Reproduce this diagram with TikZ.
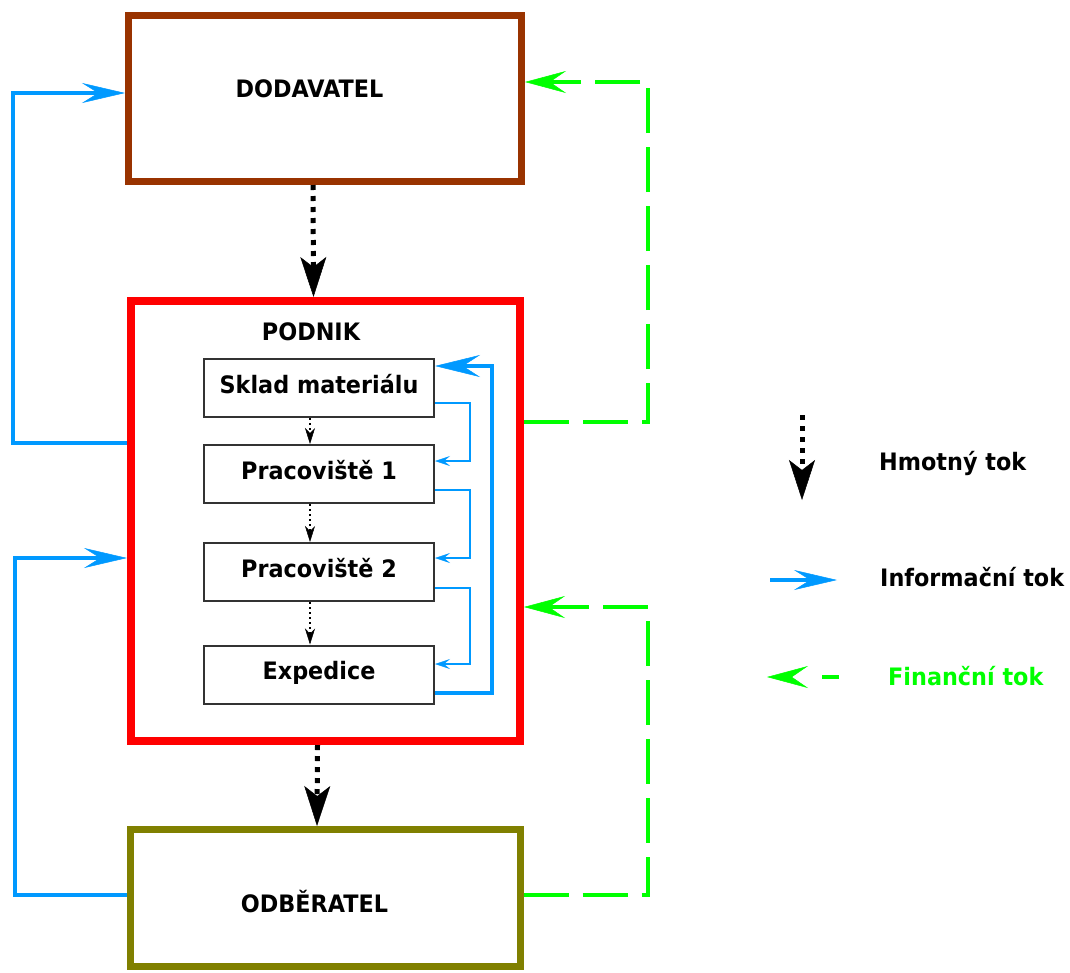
\documentclass[tikz,border=0pt]{standalone}
\usepackage{fontspec}
\setmainfont{DejaVu Sans}[FakeStretch=0.93]
\usetikzlibrary{arrows.meta,calc}
\definecolor{dodbrown}{HTML}{993300}
\definecolor{podred}{HTML}{FF0000}
\definecolor{odbolive}{HTML}{808000}
\definecolor{infoblue}{HTML}{0099FF}
\definecolor{fingreen}{HTML}{00FF00}
\definecolor{boxgray}{HTML}{333333}

\begin{document}
\begin{tikzpicture}[x=1pt,y=-1pt,
  lbl/.style={font=\bfseries\fontsize{24}{28}\selectfont, inner sep=0pt},
  bigbox/.style={draw, line width=7pt, inner sep=0pt},
  inbox/.style={draw=boxgray, line width=2pt, minimum width=230pt, minimum height=58pt,
    inner sep=0pt, text height=17pt, text depth=7pt,
    font=\bfseries\fontsize{24}{28}\selectfont},
  mat/.style={draw=black, line width=5pt, dash pattern=on 5pt off 6pt,
    -{Stealth[length=40pt,width=26pt,inset=10pt,line width=0.5pt]}},
  matsmall/.style={draw=black, line width=2pt, dash pattern=on 2pt off 3pt,
    -{Stealth[length=16pt,width=10pt,inset=5pt,line width=0.5pt]}},
  info/.style={draw=infoblue, line width=3.5pt,
    -{Stealth[length=43pt,width=20pt,inset=16pt,line width=0.5pt]}},
  infothin/.style={draw=infoblue, line width=2pt,
    -{Stealth[length=15pt,width=10pt,inset=6pt,line width=0.5pt]}},
  infothick/.style={draw=infoblue, line width=4pt,
    -{Stealth[length=45pt,width=22pt,inset=17pt,line width=0.5pt]}},
  fin/.style={draw=fingreen, line width=3.5pt, dash pattern=on 45pt off 14pt,
    -{Stealth[length=41pt,width=22pt,inset=16pt,line width=0.5pt]}},
]
\useasboundingbox (0,0) rectangle (1070,972);

% main blocks
\node[bigbox, draw=dodbrown, minimum width=393pt, minimum height=166pt] (dod) at (325,98.5) {};
\node[bigbox, draw=podred, line width=8pt, minimum width=389pt, minimum height=440pt] (podnik) at (325.5,521) {};
\node[bigbox, draw=odbolive, minimum width=390pt, minimum height=137pt] (odb) at (325,898) {};

\node[lbl, anchor=base] (dodtext) at (309.5,97) {DODAVATEL};
\node[lbl, anchor=base] (podniktext) at (311,340) {PODNIK};
\node[lbl, anchor=base] (odbtext) at (314.5,912) {ODBĚRATEL};

% workplaces inside the company
\node[inbox] (sklad) at (319,388) {Sklad materiálu};
\node[inbox] (prac1) at (319,474) {Pracoviště 1};
\node[inbox] (prac2) at (319,572) {Pracoviště 2};
\node[inbox] (exped) at (319,674.5) {Expedice};

% material flow
\draw[mat] ([xshift=-12pt]dod.south) -- ([xshift=-12pt]podnik.north);
\draw[mat] ([xshift=-8pt]podnik.south) -- ([xshift=-8pt]odb.north);
\draw[matsmall] ([xshift=-9pt]sklad.south) -- ([xshift=-9pt]prac1.north);
\draw[matsmall] ([xshift=-9pt]prac1.south) -- ([xshift=-9pt]prac2.north);
\draw[matsmall] ([xshift=-9pt]prac2.south) -- ([xshift=-9pt]exped.north);

% information flow inside the company
\draw[infothin] ([yshift=-15pt]sklad.east) -| ([xshift=35pt,yshift=13pt]prac1.east) -- ([yshift=13pt]prac1.east);
\draw[infothin] ([yshift=-16pt]prac1.east) -| ([xshift=35pt,yshift=14pt]prac2.east) -- ([yshift=14pt]prac2.east);
\draw[infothin] ([yshift=-16pt]prac2.east) -| ([xshift=35pt,yshift=10.5pt]exped.east) -- ([yshift=10.5pt]exped.east);
\draw[infothick] ([yshift=-18.5pt]exped.east) -| ([xshift=57pt,yshift=22pt]sklad.east) -- ([yshift=22pt]sklad.east);

% information flow between partners
\draw[info] ([yshift=78pt]podnik.west) -| ([xshift=-112pt,yshift=5.5pt]dod.west) -- ([yshift=5.5pt]dod.west);
\draw[info] ([yshift=3pt]odb.west) -| ([xshift=-112pt,yshift=-37pt]podnik.west) -- ([yshift=-37pt]podnik.west);

% financial flow
\draw[fin] ([yshift=99pt]podnik.east) -| ([xshift=123pt,yshift=16.5pt]dod.east) -- ([yshift=16.5pt]dod.east);
\draw[fin] ([yshift=3pt]odb.east) -| ([xshift=124pt,yshift=-86pt]podnik.east) -- ([yshift=-86pt]podnik.east);

% legend
\coordinate (lm1) at (802,415);
\coordinate (lm2) at (802,500);
\draw[mat] (lm1) -- (lm2);
\node[lbl, anchor=base west] (lmtext) at (879,470) {Hmotný tok};

\coordinate (li1) at (770,580);
\coordinate (li2) at (837,580);
\draw[info] (li1) -- (li2);
\node[lbl, anchor=base west] (litext) at (880,586) {Informační tok};

\coordinate (lf1) at (839,677);
\coordinate (lf2) at (767,677);
\draw[fin, dash pattern=on 17pt off 40pt] (lf1) -- (lf2);
\node[lbl, anchor=base west, text=fingreen] (lftext) at (888,685) {Finanční tok};
\end{tikzpicture}
\end{document}
